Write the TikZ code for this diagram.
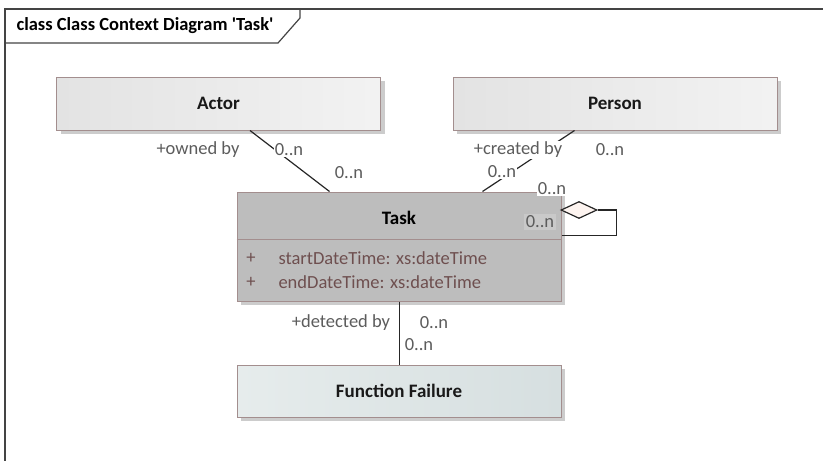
\documentclass[tikz,border=0pt]{standalone}
\usepackage{fontspec}
\setmainfont{Carlito}
\usetikzlibrary{calc,shadows,shapes.geometric}

\definecolor{frameline}{HTML}{444444}
\definecolor{classedge}{HTML}{A38E8E}
\definecolor{roletext}{HTML}{5C5C5C}
\definecolor{attrtext}{HTML}{6E4F4F}
\definecolor{taskfill}{HTML}{BDBDBD}

\tikzset{
  classbox/.style={draw=classedge, line width=1pt, inner sep=0pt,
    minimum width=324pt, minimum height=53pt,
    font=\fontsize{19}{22}\selectfont\bfseries, text=black!90,
    drop shadow={shadow xshift=4pt, shadow yshift=-4pt, fill=black!20, opacity=1}},
  role/.style={text=roletext, fill=white, inner sep=1pt,
    font=\fontsize{18.5}{21}\selectfont},
  attr/.style={text=attrtext, font=\fontsize{18.5}{21}\selectfont},
  assoc/.style={draw=black!85, line width=1.2pt},
}

\begin{document}
\begin{tikzpicture}[x=1pt,y=-1pt]

\useasboundingbox (0,0) rectangle (823,461);

% frame and its title tab
\draw [frameline, line width=1.6pt] (5,461) -- (5,9) -- (823,9);
\draw [frameline, line width=1.2pt] (5,43) -- (278,43) -- (300,18) -- (300,9);
\node (title) at (13,26)[anchor=west, font=\fontsize{18.5}{21}\selectfont\bfseries]
  {class Class Context Diagram \textquotesingle Task\textquotesingle};

% classes
\node (actor) at (218.5,103.5)[classbox, left color=black!11, right color=black!5]{Actor};
\node (person) at (615,103.5)[classbox, left color=black!11, right color=black!5]{Person};
\node (failure) at (399,391)[classbox, minimum height=52pt,
  left color={rgb,255:red,230;green,236;blue,236}, right color={rgb,255:red,214;green,223;blue,224}]{Function Failure};

\node (task) at (399,246.5)[classbox, minimum height=109pt, fill=taskfill]{};
\node (taskname) at (399,218)[font=\fontsize{19}{22}\selectfont\bfseries]{Task};
\draw [classedge, line width=1pt] ($(task.north west)+(0,48)$) -- ($(task.north east)+(0,48)$);

\node (plusA) at (251,258)[attr]{+};
\node (attrA) at (275,258)[attr, anchor=west]{startDateTime: xs:dateTime};
\node (plusB) at (251,282)[attr]{+};
\node (attrB) at (275,282)[attr, anchor=west]{endDateTime: xs:dateTime};

% associations
\coordinate (actorend) at ($(actor.south west)+(194,0)$);
\coordinate (taskA) at ($(task.north west)+(93,0)$);
\coordinate (personend) at ($(person.south west)+(122,0)$);
\coordinate (taskP) at ($(task.north west)+(246,0)$);
\coordinate (taskF) at ($(task.south west)+(163,0)$);
\coordinate (failend) at ($(failure.north west)+(163,0)$);
\coordinate (selfend) at ($(task.north east)+(0,44)$);

\draw [assoc] (actorend) -- (taskA);
\draw [assoc] (personend) -- (taskP);
\draw [assoc] (taskF) -- (failend);

\node (agg) at (579,210)[diamond, draw=black!85, line width=1.2pt, fill={rgb,255:red,253;green,244;blue,240},
  minimum width=36pt, minimum height=17pt, inner sep=0pt]{};
\draw [assoc] (agg.east) -- ++(19,0) |- (selfend);

% role names and multiplicities
\node (ownedby) at (198,150)[role]{+owned by};
\node (actormultA) at (289,150)[role]{0..n};
\node (actormultB) at (349,173)[role]{0..n};

\node (createdby) at (518,150)[role]{+created by};
\node (personmultA) at (610,150)[role]{0..n};
\node (personmultB) at (502,172)[role]{0..n};

\node (selfmultA) at (552,189)[role]{0..n};
\node (selfmultB) at (540,222)[role, fill=black!21, inner sep=2pt]{0..n};

\node (detectedby) at (341,323)[role]{+detected by};
\node (failmultA) at (434,323)[role]{0..n};
\node (failmultB) at (419,345)[role]{0..n};

\end{tikzpicture}
\end{document}
